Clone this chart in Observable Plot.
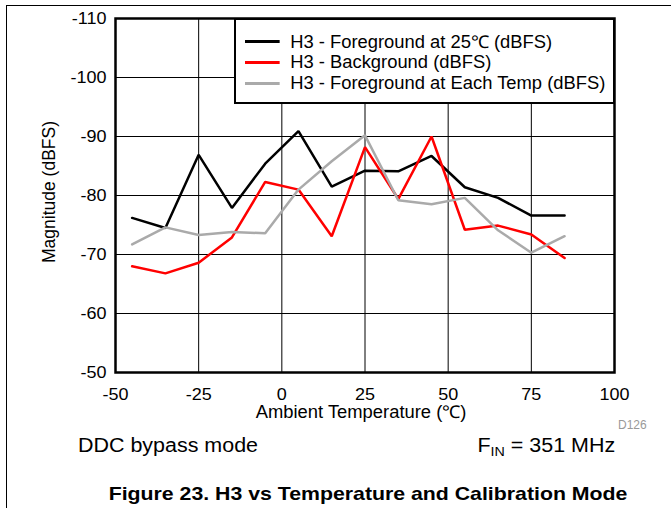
<!DOCTYPE html>
<html><head><meta charset="utf-8">
<script src="https://cdn.jsdelivr.net/npm/d3@7"></script>
<script src="https://cdn.jsdelivr.net/npm/@observablehq/plot@0.6"></script>
<style>
body{margin:0;background:#fff;font-family:"Liberation Sans",Arial,sans-serif;color:#000;}
#wrap{position:relative;width:671px;height:508px;overflow:hidden;background:#fff;}
#wrap svg{position:absolute;left:0;top:0;}
.border{position:absolute;left:6px;top:5px;right:-5px;bottom:-5px;border-top:1px solid #000;border-left:1px solid #000;}
.txt{position:absolute;white-space:nowrap;line-height:1;}
#legend{position:absolute;left:234px;top:18px;width:377px;height:82px;border:2px solid #000;background:#fff;}
.lrow{position:absolute;left:9px;height:20px;display:flex;align-items:center;font-size:17.5px;transform:scaleX(1.05);transform-origin:0 50%;}
.lsw{width:33px;height:0;border-top:3px solid;margin-right:10px;}
</style></head><body><div id="wrap"><div class="border"></div></div><script>
const temps = [-45,-35,-25,-15,-5,5,15,25,35,45,55,65,75,85];
const fg25   = [-76.2,-74.5,-86.9,-77.9,-85.4,-90.9,-81.5,-84.2,-84.1,-86.7,-81.4,-79.6,-76.6,-76.6];
const bg     = [-68.0,-66.8,-68.6,-72.9,-82.3,-81.0,-73.1,-88.2,-79.4,-90.0,-74.2,-74.9,-73.4,-69.4];
const fgEach = [-71.7,-74.6,-73.3,-73.8,-73.6,-81.0,-85.8,-90.2,-79.2,-78.5,-79.6,-74.1,-70.3,-73.1];
const seriesNames = ["H3 - Foreground at 25\u2103 (dBFS)","H3 - Background (dBFS)","H3 - Foreground at Each Temp (dBFS)"];
const seriesColors = ["#000000","#ff0000","#aaaaaa"];
const xTicks = [-50,-25,0,25,50,75,100];
const yTicks = [-110,-100,-90,-80,-70,-60,-50];
const xLabel = "Ambient Temperature (\u2103)";
const yLabel = "Magnitude (dBFS)";

const seriesValues = [fg25, bg, fgEach];
const rows = [];
seriesValues.forEach((vals, i) => vals.forEach((v, j) => rows.push({t: temps[j], v, s: seriesNames[i]})));

const chart = Plot.plot({
  width: 671, height: 508,
  marginLeft: 115, marginRight: 57, marginTop: 18, marginBottom: 136,
  style: {fontFamily: '"Liberation Sans", Arial, sans-serif', fontSize: "17px", color: "#000", background: "transparent"},
  x: {domain: [-50, 100]},
  y: {domain: [-110, -50], reverse: true},
  color: {domain: seriesNames, range: seriesColors},
  marks: [
    Plot.gridX(xTicks, {stroke: "#000", strokeOpacity: 1, strokeWidth: 1}),
    Plot.gridY(yTicks, {stroke: "#000", strokeOpacity: 1, strokeWidth: 1}),
    Plot.line(rows, {x: "t", y: "v", z: "s", stroke: "s", strokeWidth: 2.5, strokeLinejoin: "miter"}),
    Plot.frame({stroke: "#000", strokeWidth: 2.5}),
    Plot.axisX(xTicks, {tickSize: 0, tickPadding: 15, fontSize: 17, label: null, tickFormat: d => String(d)}),
    Plot.axisY(yTicks, {tickSize: 0, tickPadding: 9, fontSize: 17, label: null, tickFormat: d => String(d)})
  ]
});
// widen tick labels slightly (reference glyphs are horizontally stretched)
d3.select(chart).selectAll("g[aria-label$='tick label'] text").each(function() {
  const t = this.getAttribute("transform");
  if (t) this.setAttribute("transform", t + " scale(1.06,1)");
});
const wrap = document.getElementById("wrap");
wrap.appendChild(chart);

function addText(text, css) {
  const d = document.createElement("div");
  d.className = "txt";
  d.innerHTML = text;
  Object.assign(d.style, css);
  wrap.appendChild(d);
  return d;
}
addText(xLabel, {left: "361px", top: "404px", fontSize: "17.5px", transform: "translateX(-50%) scaleX(1.05)"});
addText(yLabel, {left: "50px", top: "192px", fontSize: "17.5px", transform: "translate(-50%,-50%) rotate(-90deg)"});
addText("D126", {left: "618px", top: "419px", fontSize: "12px", color: "#999"});
addText("DDC bypass mode", {left: "78px", top: "436px", fontSize: "19.5px", transform: "scaleX(1.1)", transformOrigin: "0 50%"});
addText("F<sub style='font-size:13px;vertical-align:-4px'>IN</sub> = 351 MHz", {right: "56px", top: "436px", fontSize: "19.5px", transform: "scaleX(1.1)", transformOrigin: "100% 50%"});
addText("Figure 23. H3 vs Temperature and Calibration Mode", {left: "368px", top: "484px", fontSize: "19px", fontWeight: "bold", transform: "translateX(-50%) scaleX(1.12)"});

const legend = document.createElement("div");
legend.id = "legend";
seriesNames.forEach((name, i) => {
  const r = document.createElement("div");
  r.className = "lrow";
  r.style.top = (11 + i * 21) + "px";
  r.innerHTML = `<span class="lsw" style="border-color:${seriesColors[i]}"></span><span>${name}</span>`;
  legend.appendChild(r);
});
wrap.appendChild(legend);
</script></body></html>
